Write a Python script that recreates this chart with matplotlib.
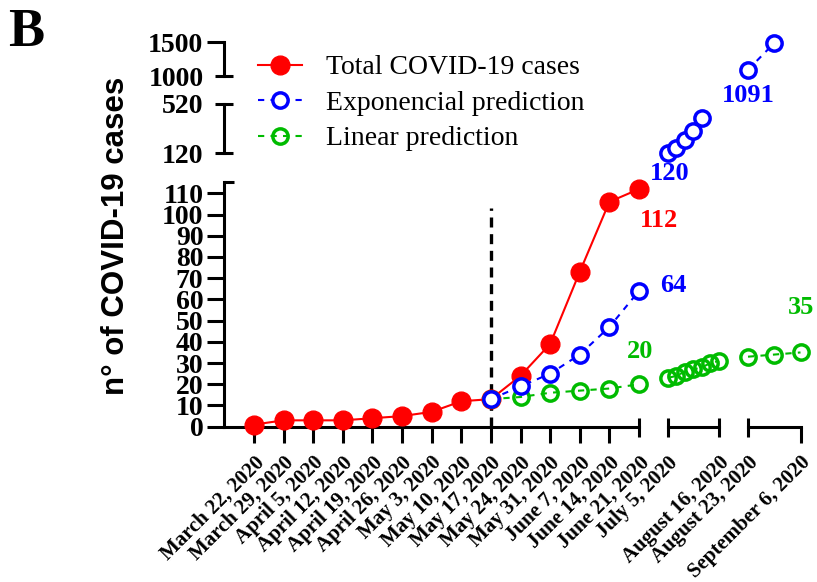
import numpy as np
import pandas as pd
import matplotlib
matplotlib.use("Agg")
import matplotlib.pyplot as plt

W, H = 817, 582

# weekly observed cases
total_dates = pd.to_datetime(["2020-03-22", "2020-03-29", "2020-04-05", "2020-04-12", "2020-04-19",
                              "2020-04-26", "2020-05-03", "2020-05-10", "2020-05-17", "2020-05-24",
                              "2020-05-31", "2020-06-07", "2020-06-14", "2020-06-21"])
total_cases = [1, 3, 3, 3, 4, 5, 7, 12, 13, 24, 39, 73, 106, 112]

# exponential prediction (only the points visible on the chart)
exp_dates = pd.to_datetime(["2020-05-17", "2020-05-24", "2020-05-31", "2020-06-07", "2020-06-14",
                            "2020-06-21", "2020-07-05", "2020-07-12", "2020-07-19", "2020-07-26",
                            "2020-08-02", "2020-08-23", "2020-08-30"])
exp_cases = [13, 19, 25, 34, 47, 64, 120, 160, 228, 300, 405, 1091, 1485]

# linear prediction
lin_dates = pd.to_datetime(["2020-05-17", "2020-05-24", "2020-05-31", "2020-06-07", "2020-06-14",
                            "2020-06-21", "2020-07-05", "2020-07-12", "2020-07-19", "2020-07-26",
                            "2020-08-02", "2020-08-09", "2020-08-16", "2020-08-23", "2020-08-30",
                            "2020-09-06"])
lin_cases = [13, 14, 16, 17, 18, 20, 23, 24, 26, 27, 28, 30, 31, 33, 34, 35]

cutoff_date = pd.Timestamp("2020-05-17")
cutoff_top = 103

# broken axes: x segments (dates) and y segments (values)
x_segments = [("2020-03-15", "2020-06-21"), ("2020-07-05", "2020-08-16"), ("2020-08-23", "2020-09-06")]
y_segments = [(0, 115.2), (120, 520), (1000, 1500)]

# pixel boxes for the segments
x_px = [(224.4, 639), (668, 719), (748, 800.5)]
y_px = [(182.3, 426.7), (104, 153.3), (42, 76)]

seg1_ticks = pd.date_range("2020-03-22", "2020-06-14", freq="7D")
yticks_low = list(range(0, 111, 10))


def date_label(d):
    return f"{d:%B} {d.day}, {d.year}"


plt.rcParams["font.family"] = ["Liberation Serif", "DejaVu Serif"]
plt.rcParams["font.weight"] = "bold"

fig = plt.figure(figsize=(W / 100, H / 100), dpi=100)

LW = 2.2  # axis line width in pt
PX = 0.72  # pt per pixel


def px_axes(x0, x1, y0, y1):
    ax = fig.add_axes([x0 / W, 1 - y1 / H, (x1 - x0) / W, (y1 - y0) / H])
    ax.patch.set_visible(False)
    for s in ax.spines.values():
        s.set_visible(False)
        s.set_linewidth(LW)
    ax.tick_params(which="both", length=0, labelbottom=False, labelleft=False, width=LW)
    return ax


axs = {}
for r, (ylo, yhi) in enumerate(y_segments):
    for c, (xlo, xhi) in enumerate(x_segments):
        ax = px_axes(x_px[c][0], x_px[c][1], y_px[r][0], y_px[r][1])
        ax.set_xlim(pd.Timestamp(xlo), pd.Timestamp(xhi))
        ax.set_ylim(ylo, yhi)
        axs[r, c] = ax

styles = {
    "total": dict(color="#ff0000", lw=1.5, marker="o", ms=13.5, mfc="#ff0000", mec="#ff0000", zorder=3),
    "lin": dict(color="#00bb00", lw=1.5, ls=(0, (3, 3)), marker="o", ms=11, mew=2.5,
                mfc="none", mec="#00bb00", zorder=4),
    "exp": dict(color="#0000ff", lw=1.5, ls=(0, (3, 3)), marker="o", ms=11, mew=2.5,
                mfc="white", mec="#0000ff", zorder=5),
}
series = {
    "total": (total_dates, total_cases),
    "lin": (lin_dates, lin_cases),
    "exp": (exp_dates, exp_cases),
}

handles = {}
for (r, c), ax in axs.items():
    xlo, xhi = pd.Timestamp(x_segments[c][0]), pd.Timestamp(x_segments[c][1])
    ylo, yhi = y_segments[r]
    for key, (d, v) in series.items():
        d = np.asarray(d)
        v = np.asarray(v, dtype=float)
        sel = (d >= np.datetime64(xlo)) & (d <= np.datetime64(xhi)) & (v >= ylo) & (v <= yhi)
        if sel.sum() == 0:
            continue
        ln, = ax.plot(d[sel], v[sel], clip_on=False, **styles[key])
        if r == 0 and c == 0:
            handles[key] = ln

# dashed cut-off line
axs[0, 0].plot([cutoff_date, cutoff_date], [0, cutoff_top], color="black", lw=2.4,
               ls=(0, (3, 2)), zorder=2, clip_on=False)

# ---- axes decoration (Prism style broken axes) ----
ylab_size = 20
xlab_size = 15
maj_len, cap_len = 17 * PX, 18 * PX
xpad_major = 10 * PX
xpad_minor = xpad_major + (16 - 9.5) * PX

# bottom row, segment 1
ax = axs[0, 0]
ax.spines["left"].set_visible(True)
ax.spines["bottom"].set_visible(True)
ax.set_yticks(yticks_low, [str(t) for t in yticks_low])
ax.set_yticks([y_segments[0][1]], minor=True)
ax.set_xticks(seg1_ticks, [date_label(d) for d in seg1_ticks])
ax.set_xticks([pd.Timestamp(x_segments[0][1])], [date_label(pd.Timestamp(x_segments[0][1]))],
              minor=True)
ax.tick_params(axis="y", which="major", direction="out", length=maj_len, labelleft=True,
               labelsize=ylab_size, pad=4 * PX)
ax.tick_params(axis="y", which="minor", direction="in", length=10 * PX)
ax.tick_params(axis="x", which="major", direction="out", length=16 * PX, labelbottom=True,
               labelsize=xlab_size, pad=xpad_major)
ax.tick_params(axis="x", which="minor", direction="inout", length=19 * PX, labelbottom=True,
               labelsize=xlab_size, pad=xpad_minor)

# bottom row, segment 2
ax = axs[0, 1]
ax.spines["bottom"].set_visible(True)
ends = [pd.Timestamp(x) for x in x_segments[1]]
ax.set_xticks(ends, [date_label(d) for d in ends], minor=True)
ax.tick_params(axis="x", which="minor", direction="inout", length=19 * PX, labelbottom=True,
               labelsize=xlab_size, pad=xpad_minor)

# bottom row, segment 3
ax = axs[0, 2]
ax.spines["bottom"].set_visible(True)
start, end = [pd.Timestamp(x) for x in x_segments[2]]
ax.set_xticks([start], [date_label(start)], minor=True)
ax.set_xticks([end], [date_label(end)])
ax.tick_params(axis="x", which="minor", direction="inout", length=19 * PX, labelbottom=True,
               labelsize=xlab_size, pad=xpad_minor)
ax.tick_params(axis="x", which="major", direction="out", length=16 * PX, labelbottom=True,
               labelsize=xlab_size, pad=xpad_major)

for c in range(3):
    for lab in axs[0, c].get_xticklabels(which="both"):
        lab.set_rotation(45)
        lab.set_rotation_mode("anchor")
        lab.set_ha("right")
        lab.set_va("top")

# middle row y axis
ax = axs[1, 0]
ax.spines["left"].set_visible(True)
ax.set_yticks(list(y_segments[1]), [str(t) for t in y_segments[1]], minor=True)
ax.tick_params(axis="y", which="minor", direction="inout", length=cap_len, labelleft=True,
               labelsize=ylab_size, pad=12 * PX)

# top row y axis
ax = axs[2, 0]
ax.spines["left"].set_visible(True)
ax.set_yticks([y_segments[2][1]], [str(y_segments[2][1])])
ax.set_yticks([y_segments[2][0]], [str(y_segments[2][0])], minor=True)
ax.tick_params(axis="y", which="major", direction="out", length=maj_len, labelleft=True,
               labelsize=ylab_size, pad=4 * PX)
ax.tick_params(axis="y", which="minor", direction="inout", length=cap_len, labelleft=True,
               labelsize=ylab_size, pad=12 * PX)

# value annotations
notes = [
    (axs[0, 0], "2020-06-21", 112, "112", "#ff0000", (20, -31)),
    (axs[0, 0], "2020-06-21", 64, "64", "#0000ff", (34, 5)),
    (axs[0, 0], "2020-06-21", 20, "20", "#00bb00", (1, 33)),
    (axs[1, 1], "2020-07-05", 120, "120", "#0000ff", (2, -20)),
    (axs[2, 2], "2020-08-23", 1091, "1091", "#0000ff", (0, -26)),
    (axs[0, 2], "2020-09-06", 35, "35", "#00bb00", (1, 45)),
]
for ax, d, v, txt, col, off in notes:
    ax.annotate(txt, (pd.Timestamp(d), v), xytext=off, textcoords="offset pixels",
                ha="center", va="center", color=col, fontsize=19, fontweight="bold",
                annotation_clip=False)

# legend
fig.legend([handles["total"], handles["exp"], handles["lin"]],
           ["Total COVID-19 cases", "Exponencial prediction", "Linear prediction"],
           loc="upper left", bbox_to_anchor=(258 / W, 1 - 55 / H), frameon=False,
           prop=dict(family="Liberation Serif", weight="normal", size=20),
           handlelength=1.6, handletextpad=0.85, labelspacing=0.36,
           borderpad=0, borderaxespad=0)

fig.text(116 / W, 1 - 236 / H, "n° of COVID-19 cases", rotation=90, ha="center", va="center",
         family=["Liberation Sans", "DejaVu Sans"], weight="bold", size=22.5)
fig.text(8 / W, 1 - 46 / H, "B", ha="left", va="baseline", size=39, weight="bold")

fig.savefig("out.png", dpi=100)
